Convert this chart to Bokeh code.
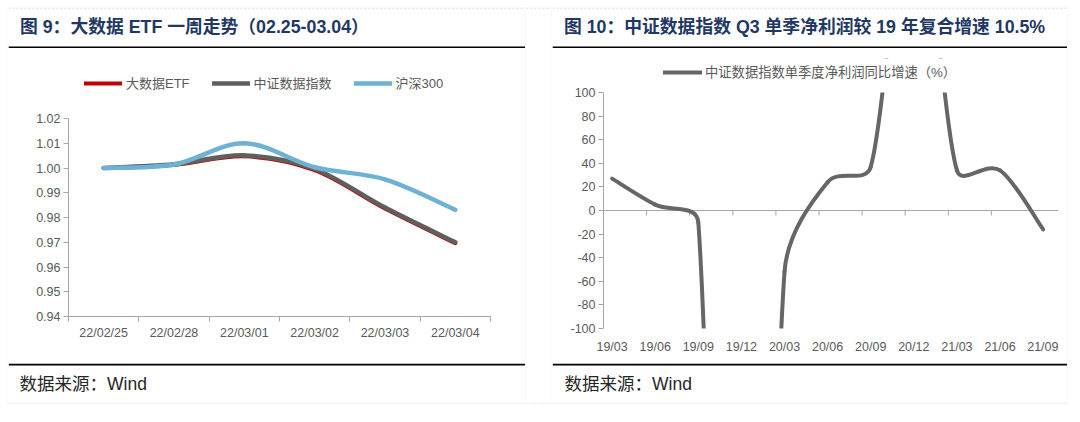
import math
from bokeh.plotting import figure
from bokeh.layouts import row, column, Spacer
from bokeh.models import (Range1d, FixedTicker, Legend, LegendItem, BoxAnnotation,
                          CustomJSTickFormatter, ColumnDataSource)
from bokeh.core.properties import value
from bokeh.embed import file_html
from bokeh.resources import INLINE

# ---------------- data: left chart ----------------
etf_dates = ["22/02/25", "22/02/28", "22/03/01", "22/03/02", "22/03/03", "22/03/04"]
bigdata_etf = [1.0000, 1.0012, 1.0047, 0.9991, 0.9836, 0.9696]
csi_bigdata = [1.0000, 1.0015, 1.0051, 0.9996, 0.9840, 0.9700]
csi300 = [1.0000, 1.0014, 1.0100, 1.0003, 0.9954, 0.9831]
left_y_ticks = [0.94, 0.95, 0.96, 0.97, 0.98, 0.99, 1.00, 1.01, 1.02]
left_names = ["大数据ETF", "中证数据指数", "沪深300"]

# ---------------- data: right chart ----------------
quarters = ["19/03", "19/06", "19/09", "19/12", "20/03", "20/06",
            "20/09", "20/12", "21/03", "21/06", "21/09"]
profit_yoy = [27, 5, -10, -1000, -52, 24, 37, 280, 34, 34, -16]
right_y_ticks = [-100, -80, -60, -40, -20, 0, 20, 40, 60, 80, 100]
right_name = "中证数据指数单季度净利润同比增速（%）"

title_left = "图 9：大数据 ETF 一周走势（02.25-03.04）"
title_right = "图 10：中证数据指数 Q3 单季净利润较 19 年复合增速 10.5%"
source_text = "数据来源：Wind"

FONT = "Liberation Sans, Noto Sans CJK SC"
AXIS = "#A6A6A6"
LABEL = "#595959"
DASH = "#C8C8C8"
RED, GRAY, BLUE, RGRAY = "#C00000", "#5F5F5F", "#6DB2D4", "#666666"

PANEL_L, PANEL_R = 517, 515
H_TITLE, H_CHART, H_FOOT = 41, 315, 41
H_ALL = H_TITLE + H_CHART + H_FOOT
CAP = 0.4


def smooth_segments(xs, ys, kx, ky):
    """Excel-like smoothed Bezier segments through the data points (screen-space arms)."""
    pts = [(x * kx, y * ky) for x, y in zip(xs, ys)]
    n = len(pts)
    seg = dict(x0=[], y0=[], x1=[], y1=[], cx0=[], cy0=[], cx1=[], cy1=[])
    for i in range(n - 1):
        p0 = pts[max(i - 1, 0)]
        p1, p2 = pts[i], pts[i + 1]
        p3 = pts[min(i + 2, n - 1)]
        cap = math.dist(p1, p2) * CAP

        def arm(a, b):
            dx, dy = (b[0] - a[0]) / 6, (b[1] - a[1]) / 6
            L = math.hypot(dx, dy)
            if L > cap and L > 0:
                dx, dy = dx * cap / L, dy * cap / L
            return dx, dy

        a1 = arm(p0, p2)
        a2 = arm(p1, p3)
        seg["x0"].append(xs[i]); seg["y0"].append(ys[i])
        seg["x1"].append(xs[i + 1]); seg["y1"].append(ys[i + 1])
        seg["cx0"].append(xs[i] + a1[0] / kx); seg["cy0"].append(ys[i] + a1[1] / ky)
        seg["cx1"].append(xs[i + 1] - a2[0] / kx); seg["cy1"].append(ys[i + 1] - a2[1] / ky)
    return ColumnDataSource(seg)


def deco_fig(w, h):
    p = figure(width=w, height=h, x_range=Range1d(0, w), y_range=Range1d(0, h),
               output_backend="svg", toolbar_location=None, min_border=0,
               x_axis_location=None, y_axis_location=None, outline_line_color=None)
    p.grid.visible = False
    return p


def title_fig(w, text):
    p = deco_fig(w, H_TITLE)
    p.segment(x0=[0], y0=[H_TITLE - 0.5], x1=[w], y1=[H_TITLE - 0.5],
              line_color=DASH, line_width=1, line_dash="2 2")
    p.segment(x0=[0], y0=[1], x1=[w], y1=[1], line_color="black", line_width=2)
    p.text(x=[11.5], y=[21.5], text=[text], text_font=value(FONT),
           text_font_style=value("bold"), text_font_size=value("17.8px"),
           text_color="#1F3864", text_baseline=value("middle"), text_align=value("left"))
    return p


def foot_fig(w, x):
    p = deco_fig(w, H_FOOT)
    p.segment(x0=[0], y0=[H_FOOT - 1], x1=[w], y1=[H_FOOT - 1], line_color="black", line_width=2)
    p.segment(x0=[0], y0=[0.5], x1=[w], y1=[0.5], line_color=DASH, line_width=1, line_dash="2 2")
    p.text(x=[x], y=[20.5], text=[source_text], text_font=value(FONT),
           text_font_size=value("17.5px"), text_color="#262626",
           text_baseline=value("middle"), text_align=value("left"))
    return p


def vline_fig():
    p = deco_fig(1, H_ALL)
    p.segment(x0=[0.5], y0=[0], x1=[0.5], y1=[H_ALL], line_color=DASH, line_width=1, line_dash="2 2")
    return p


def gap_fig(w):
    p = deco_fig(w, H_ALL)
    p.segment(x0=[0, 0], y0=[H_ALL - 0.5, 0.5], x1=[w, w], y1=[H_ALL - 0.5, 0.5],
              line_color=DASH, line_width=1, line_dash="2 2")
    return p


def style_axis(ax):
    ax.axis_line_color = AXIS
    ax.major_tick_line_color = AXIS
    ax.minor_tick_line_color = None
    ax.major_tick_in = 0
    ax.major_tick_out = 5
    ax.major_label_text_font = FONT
    ax.major_label_text_font_size = "12.5px"
    ax.major_label_text_color = LABEL


def make_legend(items, loc):
    return Legend(items=items, location=loc, orientation="horizontal",
                  glyph_width=38, glyph_height=16, label_height=16, label_standoff=4,
                  spacing=22, padding=0, margin=0, border_line_color=None,
                  background_fill_alpha=0, label_text_font=FONT,
                  label_text_font_size="13px", label_text_color=LABEL)


bz = dict(x0="x0", y0="y0", x1="x1", y1="y1", cx0="cx0", cy0="cy0", cx1="cx1", cy1="cy1")

# ---------------- left chart ----------------
nL = len(etf_dates)
xs_left = [i + 0.5 for i in range(nL)]
ML, MR, MT, MB = 60, 35, 18, 47
TICKS_PX_L = 198          # pixel height between first and last y tick
fw_l, fh_l = PANEL_L - ML - MR, H_CHART - MT - MB
ly0, ly1 = left_y_ticks[0], left_y_ticks[-1]
pl = figure(width=PANEL_L, height=H_CHART, output_backend="svg", toolbar_location=None,
            x_range=Range1d(0, nL), y_range=Range1d(ly0, ly0 + (ly1 - ly0) * fh_l / TICKS_PX_L),
            min_border_left=ML, min_border_right=MR, min_border_top=MT, min_border_bottom=MB,
            outline_line_color=None)
pl.grid.visible = False
xa = pl.xaxis[0]
style_axis(xa)
xa.ticker = FixedTicker(ticks=xs_left, minor_ticks=list(range(nL + 1)))
xa.major_label_overrides = {x: d for x, d in zip(xs_left, etf_dates)}
xa.major_tick_line_color = None
xa.major_tick_out = 0
xa.minor_tick_line_color = AXIS
xa.minor_tick_in = 0
xa.minor_tick_out = 5
xa.major_label_standoff = 4
ya = pl.yaxis[0]
style_axis(ya)
ya.ticker = FixedTicker(ticks=left_y_ticks)
ya.bounds = (ly0, ly1)
ya.formatter = CustomJSTickFormatter(code="return tick.toFixed(2)")
ya.major_label_standoff = 3

kx_l = fw_l / nL
ky_l = TICKS_PX_L / (ly1 - ly0)
r_red = pl.bezier(**bz, source=smooth_segments(xs_left, bigdata_etf, kx_l, ky_l),
                  line_color=RED, line_width=4, line_cap="round")
r_gray = pl.bezier(**bz, source=smooth_segments(xs_left, csi_bigdata, kx_l, ky_l),
                   line_color=GRAY, line_width=4.5, line_cap="round")
r_blue = pl.bezier(**bz, source=smooth_segments(xs_left, csi300, kx_l, ky_l),
                   line_color=BLUE, line_width=4.5, line_cap="round")
leg_l = make_legend([LegendItem(label=left_names[0], renderers=[r_red]),
                     LegendItem(label=left_names[1], renderers=[r_gray]),
                     LegendItem(label=left_names[2], renderers=[r_blue])], (16, 224))
pl.add_layout(leg_l)

# ---------------- right chart ----------------
nR = len(quarters)
xs_right = list(range(nR))
RW = 506
RL, RT, RB = 51, 10, 35
TICKS_PX_R = 236
fw_r, fh_r = RW - RL, H_CHART - RT - RB
ry0, ry1 = right_y_ticks[0], right_y_ticks[-1]
px_per_q = 43.1
x_start = -0.2
x_axis_end = (nR - 1) + 0.35
pr = figure(width=RW, height=H_CHART, output_backend="svg", toolbar_location=None,
            x_range=Range1d(x_start, x_start + fw_r / px_per_q),
            y_range=Range1d(ry0, ry0 + (ry1 - ry0) * fh_r / TICKS_PX_R),
            min_border_left=RL, min_border_right=0, min_border_top=RT, min_border_bottom=RB,
            outline_line_color=None)
pr.grid.visible = False
xb = pr.xaxis[0]
style_axis(xb)
xb.ticker = FixedTicker(ticks=xs_right)
xb.major_label_overrides = {i: q for i, q in zip(xs_right, quarters)}
xb.axis_line_color = None
xb.major_tick_line_color = None
xb.major_tick_out = 0
xb.major_label_standoff = 11
yb = pr.yaxis[0]
style_axis(yb)
yb.ticker = FixedTicker(ticks=right_y_ticks)
yb.bounds = (ry0, ry1)
yb.formatter = CustomJSTickFormatter(code="return tick.toString()")
yb.major_label_standoff = 3

ky_r = TICKS_PX_R / (ry1 - ry0)
# horizontal axis line crossing at zero, with its tick marks
pr.segment(x0=[x_start], y0=[0], x1=[x_axis_end], y1=[0], line_color=AXIS, line_width=1)
tick_x = [i + x_start for i in xs_right[1:-1]]
pr.segment(x0=tick_x, y0=[0] * len(tick_x), x1=tick_x, y1=[-5 / ky_r] * len(tick_x),
           line_color=AXIS, line_width=1)
r_profit = pr.bezier(**bz, source=smooth_segments(xs_right, profit_yoy, px_per_q, ky_r),
                     line_color=RGRAY, line_width=4, line_cap="round")
# the plot area ends at the top tick: hide anything drawn above it
pr.add_layout(BoxAnnotation(bottom=ry1, fill_color="white", fill_alpha=1.0,
                            line_color=None, level="annotation"))
leg_r = make_legend([LegendItem(label=right_name, renderers=[r_profit])], (60, 247))
leg_r.glyph_width = 39
leg_r.label_standoff = 3
leg_r.label_text_font_size = "13.3px"
pr.add_layout(leg_r)

# ---------------- layout ----------------
left_panel = row(vline_fig(),
                 column(row(title_fig(PANEL_L, title_left)), row(pl), row(foot_fig(PANEL_L, 11))),
                 vline_fig())
right_panel = row(vline_fig(),
                  column(row(title_fig(PANEL_R, title_right)),
                         row(pr, Spacer(width=PANEL_R - RW, height=H_CHART)),
                         row(foot_fig(PANEL_R, 12))),
                  vline_fig())
page = column(Spacer(width=10, height=7),
              row(Spacer(width=7, height=H_ALL), left_panel, gap_fig(25), right_panel))

open("out.html", "w").write(file_html(page, INLINE))
